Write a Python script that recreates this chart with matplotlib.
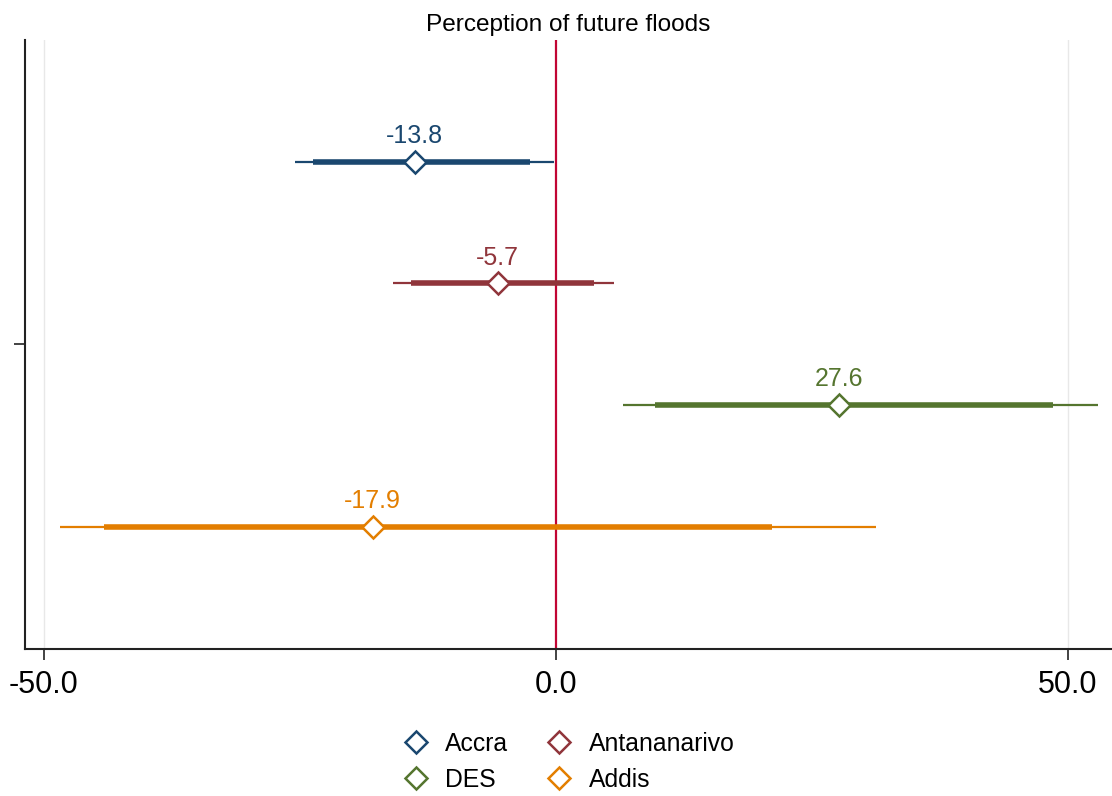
import matplotlib.pyplot as plt
from matplotlib.lines import Line2D

plt.rcParams['font.family'] = ['Liberation Sans', 'DejaVu Sans']

# estimates per city, with 90% (thick) and 95% (thin) intervals
cities = ['Accra', 'Antananarivo', 'DES', 'Addis']
point = [-13.8, -5.7, 27.6, -17.9]
ci90_lo = [-23.7, -14.2, 9.7, -44.1]
ci90_hi = [-2.5, 3.7, 48.5, 21.1]
ci95_lo = [-25.5, -15.9, 6.5, -48.4]
ci95_hi = [-0.2, 5.7, 52.9, 31.3]
colors = ['#1a476f', '#90353b', '#55752f', '#e37e00']

fig = plt.figure(figsize=(11.12, 7.96), dpi=100)
ax = fig.add_axes([0.0225, 0.185, 0.9775, 0.765])

ax.axvline(-50, color='#e8e8e8', lw=1, zorder=0)
ax.axvline(50, color='#e8e8e8', lw=1, zorder=0)
ax.axvline(0, color='#c10534', lw=1.6, zorder=1)

for i, city in enumerate(cities):
    y = i + 1
    c = colors[i]
    ax.plot([ci95_lo[i], ci95_hi[i]], [y, y], color=c, lw=1.6, solid_capstyle='butt', zorder=2)
    ax.plot([ci90_lo[i], ci90_hi[i]], [y, y], color=c, lw=4, solid_capstyle='butt', zorder=3)
    ax.plot(point[i], y, marker='D', ms=11.5, mfc='white', mec=c, mew=1.8, zorder=4)
    ax.annotate('%.1f' % point[i], (point[i], y), xytext=(0, 18.5), textcoords='offset points',
                ha='center', va='center', color=c, fontsize=18)

ax.set_xlim(-51.85, 54.3)
ax.set_ylim(5, 0)
ax.set_xticks([-50, 0, 50])
ax.set_xticklabels(['-50.0', '0.0', '50.0'], fontsize=22)
ax.set_yticks([2.5])
ax.set_yticklabels([''])
ax.tick_params(axis='both', length=8, width=1.2, color='#222222')
ax.tick_params(axis='x', pad=7)
for s in ['top', 'right']:
    ax.spines[s].set_visible(False)
for s in ['left', 'bottom']:
    ax.spines[s].set_linewidth(1.5)
    ax.spines[s].set_color('#222222')

ax.set_title('Perception of future floods', fontsize=17.6, pad=6)

handles = [Line2D([], [], ls='none', marker='D', ms=11.5, mfc='white', mec=colors[i], mew=1.8)
           for i in range(len(cities))]
# two columns: Accra/Antananarivo on top, DES/Addis below
order = [0, 2, 1, 3]
fig.legend([handles[k] for k in order], [cities[k] for k in order], ncol=2,
           loc='center', bbox_to_anchor=(0.5105, 0.043), frameon=False, fontsize=17.8,
           handletextpad=0.6, columnspacing=1.45, labelspacing=0.5, handlelength=1.2)

fig.savefig('out.png', dpi=100)
